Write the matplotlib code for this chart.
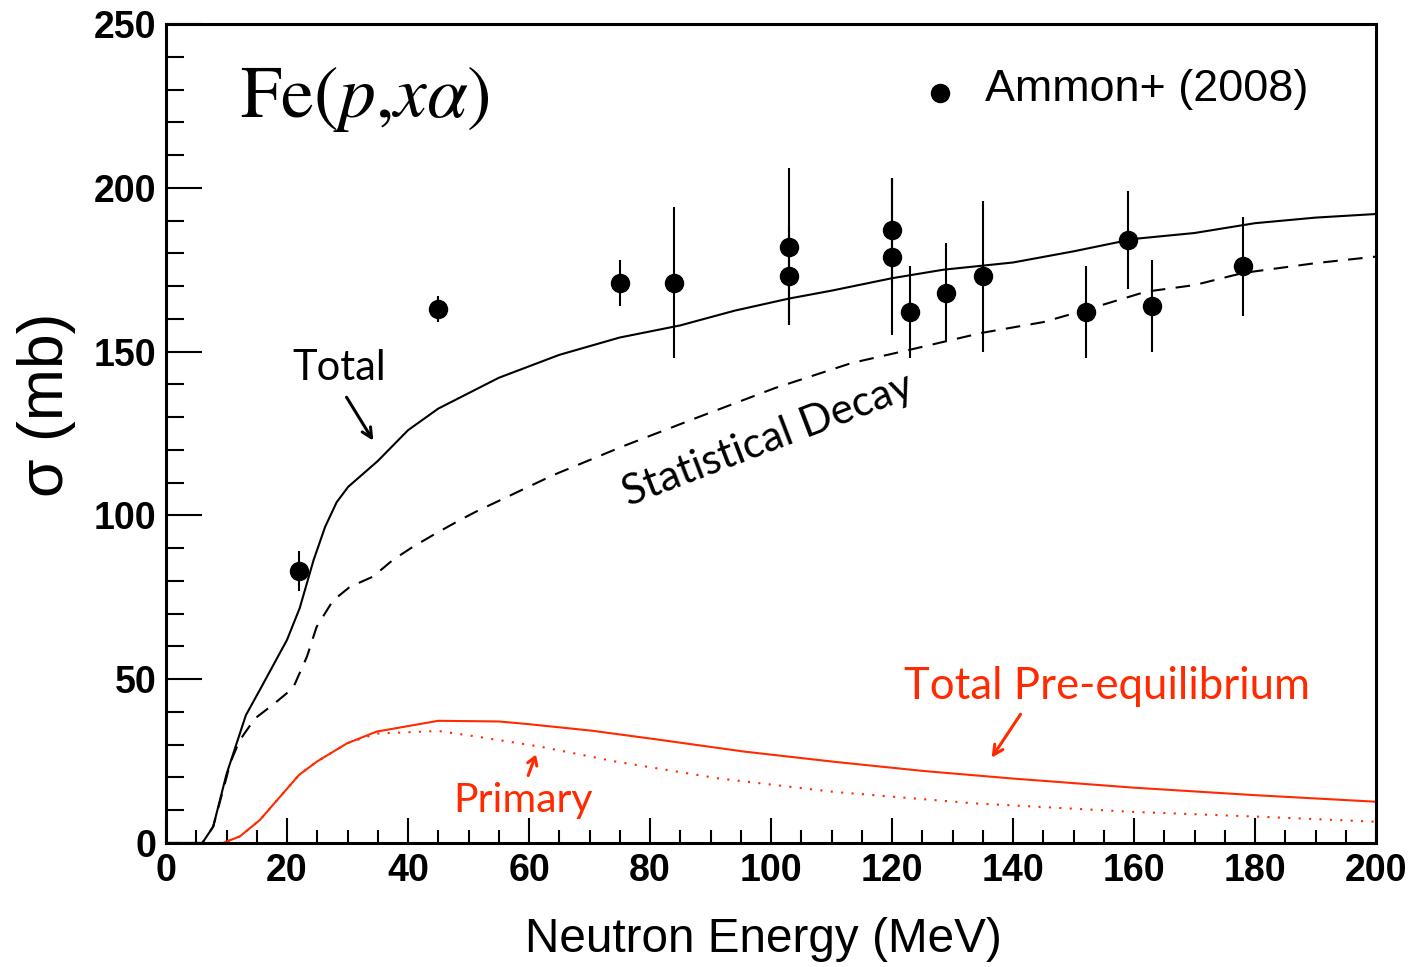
import matplotlib
matplotlib.use("Agg")
import matplotlib.pyplot as plt
from matplotlib.ticker import MultipleLocator

# Ammon+ (2008) data points
e_data = [22, 45, 75, 84, 103, 103, 120, 120, 123, 129, 135, 152, 159, 163, 178]
sig_data = [83, 163, 171, 171, 182, 173, 187, 179, 162, 168, 173, 162, 184, 164, 176]
err_data = [6, 4, 7, 23, 24, 15, 16, 24, 14, 15, 23, 14, 15, 14, 15]

# total
e_tot = [0, 6, 7.8, 10, 13.2, 15.5, 20, 22.1, 24.4, 26.3, 28.2, 30.1, 35, 40, 45, 55, 65,
         75, 85, 94, 103, 110, 120, 128.5, 140, 150, 160, 170, 180, 190, 200]
sig_tot = [0, 0, 5, 21, 39, 46.7, 62, 71.7, 86.4, 96.5, 104, 108.7, 116.6, 126, 132.6, 142, 149,
           154.3, 158, 162.5, 166.2, 168.6, 172.4, 175, 177.2, 180.6, 184.4, 186.2, 189.2, 190.9, 192]

# statistical decay
e_stat = [0, 6, 7.8, 10, 10.6, 12.2, 14.7, 18, 21, 23.3, 24.9, 27.6, 30.4, 34.2, 37.5, 40.8, 44.7,
          48.6, 51.3, 64, 75.4, 88, 100.7, 113.3, 122.8, 134.8, 145, 152, 162, 170, 178, 190, 200]
sig_stat = [0, 0, 5, 20, 24.4, 31.4, 38, 42.7, 47.3, 56.9, 66, 74, 78.2, 81.3, 86.4, 90.4, 94.6,
            98.6, 101.2, 112.3, 121, 130, 138.9, 146.5, 150.5, 155.7, 159, 162.7, 168.3, 170.3, 174, 177, 179]

# total pre-equilibrium
e_pre = [0, 9.4, 12.2, 15.5, 22, 24.9, 29.9, 34.8, 45, 55, 59.8, 70.3, 80.8, 95.6, 110.4,
         125.1, 139.8, 159.9, 180, 200]
sig_pre = [0, 0, 2, 7, 20.8, 24.8, 30.4, 34, 37.3, 37.1, 36.3, 34.3, 31.7, 27.9, 24.8,
           22, 19.7, 16.9, 14.6, 12.6]

# primary
e_prim = [0, 9.4, 12.2, 15.5, 22, 24.9, 29.9, 34.8, 45, 51.3, 61.9, 74.5, 91.4, 110.4,
          133.6, 159.9, 181, 200]
sig_prim = [0, 0, 2, 7, 20.8, 24.8, 30.4, 33.4, 34.2, 32.5, 29.4, 24.8, 19.7, 15.6,
            12.1, 9.5, 8, 6.5]

red = '#ff2a00'
note_font = 'Lato'

fig = plt.figure(figsize=(14.12, 9.67), dpi=100)
ax = fig.add_axes([166/1412, 1-843/967, (1376-166)/1412, (843-24)/967])

ax.plot(e_tot, sig_tot, color='black', lw=1.5)
ax.plot(e_stat, sig_stat, color='black', lw=1.5, dashes=(7, 5))
ax.plot(e_pre, sig_pre, color=red, lw=1.5)
ax.plot(e_prim, sig_prim, color=red, lw=1.5, dashes=(1, 4))
ax.errorbar(e_data, sig_data, yerr=err_data, fmt='o', color='black', ms=13,
            elinewidth=1.5, capsize=0, zorder=5)

ax.set_xlim(0, 200)
ax.set_ylim(0, 250)
ax.xaxis.set_major_locator(MultipleLocator(20))
ax.xaxis.set_minor_locator(MultipleLocator(5))
ax.yaxis.set_major_locator(MultipleLocator(50))
ax.yaxis.set_minor_locator(MultipleLocator(10))
ax.tick_params(axis='both', which='both', direction='in', width=1.5,
               top=False, right=False, labelsize=27, pad=7)
ax.tick_params(axis='y', which='major', length=26)
ax.tick_params(axis='y', which='minor', length=13)
ax.tick_params(axis='x', which='major', length=18)
ax.tick_params(axis='x', which='minor', length=9.5)
for lab in ax.get_xticklabels() + ax.get_yticklabels():
    lab.set_fontweight('bold')
    lab.set_family('Liberation Sans')
for s in ax.spines.values():
    s.set_linewidth(2.2)

fig.text(763/1412, 1-940/967, 'Neutron Energy (MeV)', fontsize=34.3,
         family='Liberation Sans', ha='center', va='center')
fig.text(47/1412, 1-405/967, 'σ (mb)', fontsize=45, rotation=90,
         family='Liberation Sans', ha='center', va='center')

plt.rcParams['mathtext.fontset'] = 'stix'
ax.text(32.9, 227.7, r'$\mathrm{Fe}(p{,}x\alpha)$', fontsize=53, ha='center', va='center')

# legend
ax.plot([128], [229], 'o', color='black', ms=13)
ax.text(135.4, 230, 'Ammon+ (2008)', fontsize=32.3, family='Liberation Sans', va='center')

# annotations
arrow_big = '->,head_length=0.7,head_width=0.35'
ax.text(28.6, 145, 'Total', fontsize=30, family=note_font, ha='center', va='center')
ax.annotate('', xy=(34.5, 122.1), xytext=(29.6, 136.8),
            arrowprops=dict(arrowstyle=arrow_big, color='black', lw=2.2))
ax.text(99.5, 123, 'Statistical Decay', fontsize=30.5, family=note_font, rotation=21,
        ha='center', va='center', rotation_mode='anchor')
ax.text(155.5, 47.9, 'Total Pre-equilibrium', fontsize=31.5, family=note_font, color=red,
        ha='center', va='center')
ax.annotate('', xy=(136.2, 25.3), xytext=(141.5, 40),
            arrowprops=dict(arrowstyle=arrow_big, color=red, lw=2.2))
ax.text(59, 13.1, 'Primary', fontsize=29.5, family=note_font, color=red,
        ha='center', va='center')
ax.annotate('', xy=(61.3, 27.8), xytext=(59.7, 19.8),
            arrowprops=dict(arrowstyle='->,head_length=0.55,head_width=0.35', color=red, lw=2.2))

fig.savefig('out.png', dpi=100)
